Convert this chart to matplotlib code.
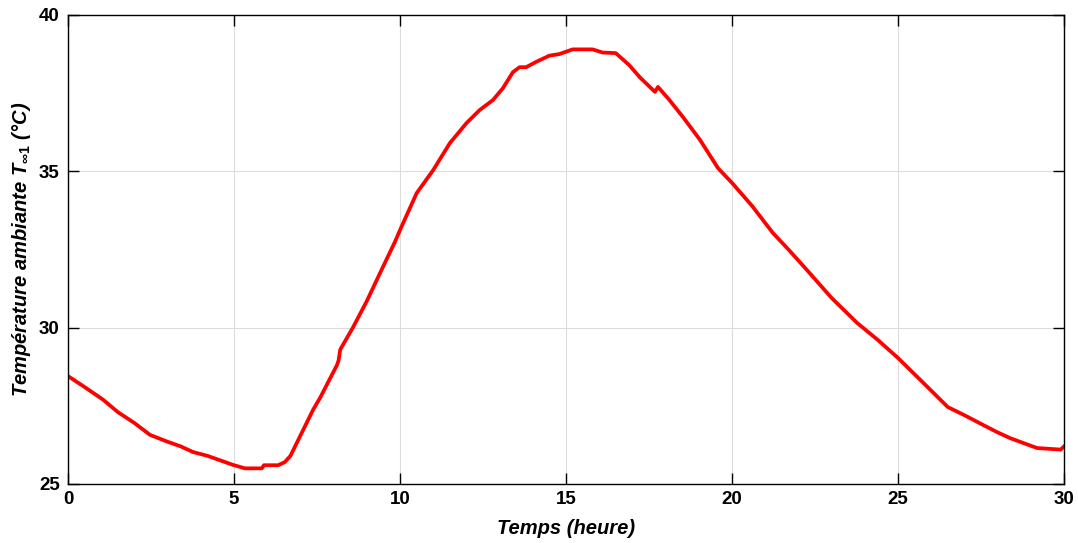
import matplotlib
matplotlib.use("Agg")
import matplotlib.pyplot as plt

plt.rcParams["font.family"] = ["Liberation Sans", "DejaVu Sans"]
plt.rcParams["mathtext.fontset"] = "custom"
plt.rcParams["mathtext.it"] = "Liberation Sans:italic:bold"
plt.rcParams["mathtext.rm"] = "Liberation Sans:bold"

# Temps (heure) et température ambiante (°C)
temps = [0.0, 0.5, 1.05, 1.5, 2.0, 2.47, 3.0, 3.4, 3.77, 4.2, 4.6, 4.97,
         5.33, 5.84, 5.9, 6.33, 6.53, 6.7, 7.0, 7.38, 7.59, 8.1, 8.15,
         8.2, 8.58, 9.0, 9.4, 9.85, 10.0, 10.5, 11.0, 11.5, 12.0, 12.4,
         12.8, 13.1, 13.4, 13.6, 13.8, 14.1, 14.5, 14.8, 15.2, 15.8,
         16.1, 16.5, 16.9, 17.23, 17.68, 17.77, 18.1, 18.52, 19.04, 19.58,
         20.0, 20.6, 21.23, 21.7, 22.26, 23.0, 23.77, 24.4, 25.0, 25.7,
         26.5, 27.0, 27.56, 28.0, 28.37, 28.8, 29.19, 29.9, 30.0]
temperature = [28.45, 28.1, 27.7, 27.3, 26.95, 26.57, 26.35, 26.2, 26.02,
               25.9, 25.75, 25.61, 25.5, 25.5, 25.6, 25.6, 25.7, 25.9,
               26.55, 27.37, 27.75, 28.8, 28.95, 29.3, 30.0, 30.85, 31.75,
               32.75, 33.12, 34.3, 35.04, 35.9, 36.54, 36.96, 37.28, 37.66,
               38.17, 38.33, 38.33, 38.5, 38.7, 38.75, 38.9, 38.9, 38.8,
               38.78, 38.4, 38.0, 37.54, 37.7, 37.3, 36.74, 36.0, 35.1,
               34.63, 33.9, 33.03, 32.5, 31.84, 30.95, 30.15, 29.6, 29.03,
               28.3, 27.46, 27.2, 26.89, 26.65, 26.47, 26.3, 26.15, 26.1,
               26.2]

fig = plt.figure(figsize=(10.78, 5.43), dpi=100)
ax = fig.add_axes([0.0631, 0.1087, 0.9239, 0.8637])

ax.plot(temps, temperature, color="red", linewidth=2.7)

ax.set_xlim(0, 30)
ax.set_ylim(25, 40)
ax.set_xticks([0, 5, 10, 15, 20, 25, 30])
ax.set_yticks([25, 30, 35, 40])
ax.grid(True, color="#dcdcdc", linewidth=0.8)
ax.set_axisbelow(True)
ax.tick_params(direction="in", top=True, right=True, length=8,
               labelsize=13.5, width=1)
ax.tick_params(axis="y", pad=6)
ax.tick_params(axis="x", pad=5)
for lab in ax.get_xticklabels() + ax.get_yticklabels():
    lab.set_fontweight("bold")
for sp in ax.spines.values():
    sp.set_linewidth(1)

ax.set_xlabel("Temps (heure)", fontsize=14.5, fontweight="bold",
              fontstyle="italic", labelpad=8)
ax.set_ylabel(r"Température ambiante $T_{\infty 1}$ (°C)", fontsize=14.5,
              fontweight="bold", fontstyle="italic", labelpad=4)

fig.savefig("out.png", dpi=100)
